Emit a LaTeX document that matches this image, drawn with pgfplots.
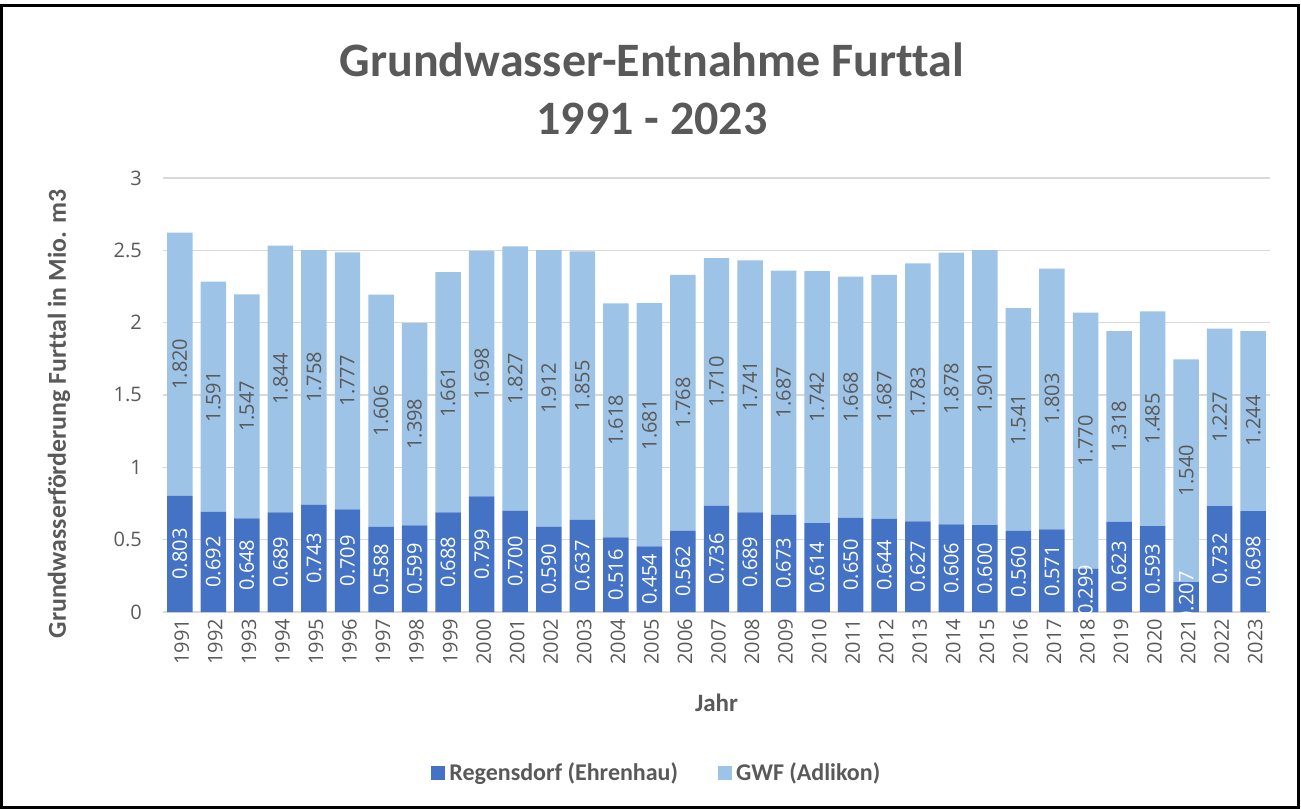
\documentclass[border=0pt]{standalone}
\usepackage{pgfplots}
\pgfplotsset{compat=1.18}
\usepackage{pgfplotstable}
\usepackage{fontspec}
\setmainfont{Carlito}[Ligatures=NoCommon]
\newfontfamily\zahlfont{Open Sans}
\definecolor{txt}{HTML}{595959}
\definecolor{grd}{HTML}{D9D9D9}
\definecolor{dunkel}{HTML}{4472C4}
\definecolor{hell}{HTML}{9DC3E6}

% i = Position, a = Regensdorf (Ehrenhau), b = GWF (Adlikon), Mio. m3
\pgfplotstableread{
i a     b
0  0.803 1.820
1  0.692 1.591
2  0.648 1.547
3  0.689 1.844
4  0.743 1.758
5  0.709 1.777
6  0.588 1.606
7  0.599 1.398
8  0.688 1.661
9  0.799 1.698
10 0.700 1.827
11 0.590 1.912
12 0.637 1.855
13 0.516 1.618
14 0.454 1.681
15 0.562 1.768
16 0.736 1.710
17 0.689 1.741
18 0.673 1.687
19 0.614 1.742
20 0.650 1.668
21 0.644 1.687
22 0.627 1.783
23 0.606 1.878
24 0.600 1.901
25 0.560 1.541
26 0.571 1.803
27 0.299 1.770
28 0.623 1.318
29 0.593 1.485
30 0.207 1.540
31 0.732 1.227
32 0.698 1.244
}\wasser

\pgfplotsset{
  base/.style={
    width=553.5pt, height=217pt, scale only axis,
    at={(0,0)}, anchor=south west,
    xmin=-0.5, xmax=32.5, ymin=0, ymax=3,
  },
}

\begin{document}
\begin{tikzpicture}
\useasboundingbox (-81.5pt,-98.5pt) rectangle (569pt,306pt);
\draw[line width=1.5pt] (-80.5pt,-97.5pt) rectangle (567.5pt,303pt);
\node[font=\bfseries\fontsize{24}{29}\selectfont, text=txt, align=center] at (244.5pt,261.5pt)
  {Grundwasser-Entnahme Furttal\\1991 - 2023};

\begin{axis}[base,
  ybar stacked, bar width=0.76,
  axis line style={draw=none},
  major tick length=0pt,
  ytick={0,0.5,...,3},
  yticklabels={0,0.5,1,1.5,2,2.5,3},
  ymajorgrids, major grid style={grd, line width=0.75pt},
  xtick={0,...,32},
  xticklabels={1991,1992,1993,1994,1995,1996,1997,1998,1999,2000,2001,2002,2003,2004,2005,2006,2007,2008,2009,2010,2011,2012,2013,2014,2015,2016,2017,2018,2019,2020,2021,2022,2023},
  xticklabel style={rotate=90, anchor=east, font=\zahlfont\fontsize{10}{12}\selectfont, text=txt, yshift=-1pt},
  yticklabel style={font=\zahlfont\fontsize{10}{12}\selectfont, text=txt, xshift=-7pt},
  xlabel={Jahr},
  xlabel style={at={(axis description cs:0.5,-0.21)}, anchor=center, font=\bfseries\fontsize{12.5}{14}\selectfont, text=txt},
  ylabel={Grundwasserförderung Furttal in Mio. m3},
  ylabel style={at={(axis description cs:-0.094,0.456)}, rotate=0, anchor=center, font=\bfseries\fontsize{12.9}{14}\selectfont, text=txt},
  legend columns=2,
  legend style={draw=none, fill=none, at={(axis description cs:0.447,-0.371)}, anchor=center,
    font=\bfseries\fontsize{12}{14}\selectfont, text=txt,
    /tikz/every even column/.append style={column sep=18pt}},
  legend image code/.code={\fill[#1] (0pt,-3.5pt) rectangle (7pt,3.5pt);},
]
\addplot[fill=dunkel, draw=none] table[x=i, y=a] {\wasser};
\addplot[fill=hell, draw=none] table[x=i, y=b] {\wasser};
\legend{Regensdorf (Ehrenhau), GWF (Adlikon)}
\end{axis}

% Datenbeschriftungen, mittig im Segment
\begin{axis}[base, hide axis, clip=false,
  nodes near coords, point meta=explicit,
  /pgf/number format/fixed, /pgf/number format/fixed zerofill, /pgf/number format/precision=3,
  /pgf/number format/assume math mode=true,
  nodes near coords style={rotate=90, anchor=center, font=\zahlfont\fontsize{10}{12}\selectfont},
]
\addplot[draw=none, mark=none, nodes near coords style={text=white}]
  table[x=i, y expr=\thisrow{a}/2, meta=a] {\wasser};
\addplot[draw=none, mark=none, nodes near coords style={text=txt}]
  table[x=i, y expr=\thisrow{a}+\thisrow{b}/2, meta=b] {\wasser};
\end{axis}
\end{tikzpicture}
\end{document}
